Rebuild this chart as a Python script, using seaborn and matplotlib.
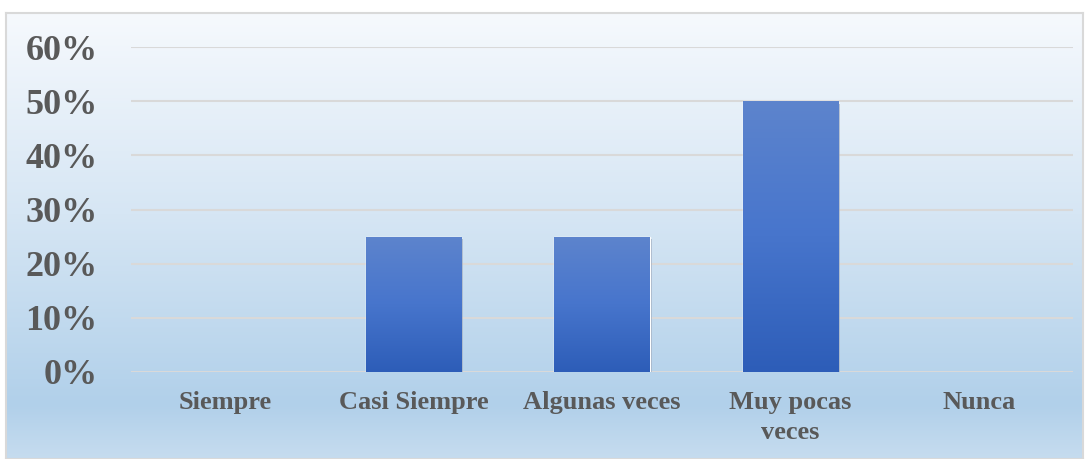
import matplotlib.pyplot as plt
import matplotlib.patheffects as pe
import numpy as np
import pandas as pd
import seaborn as sns
from matplotlib.colors import LinearSegmentedColormap

# Data
categories = ['Siempre', 'Casi Siempre', 'Algunas veces', 'Muy pocas\nveces', 'Nunca']
values = [0, 25, 25, 50, 0]
yticks = [0, 10, 20, 30, 40, 50, 60]

df = pd.DataFrame({'categoria': categories, 'porcentaje': values})

sns.set_theme(style="white")
plt.rcParams['font.family'] = ['Liberation Serif', 'DejaVu Serif']

fig = plt.figure(figsize=(10.89, 4.59), dpi=100)

# Background gradient panel with light border
bg = fig.add_axes([6 / 1089, 0, 1077 / 1089, 1 - 13 / 459], zorder=0)
bg_cmap = LinearSegmentedColormap.from_list(
    'bg', [(0, '#f6f9fd'), (0.45, '#d6e6f4'), (0.88, '#b1d0ea'), (1, '#c6dcef')])
bg.imshow(np.linspace(0, 1, 256).reshape(-1, 1), aspect='auto', cmap=bg_cmap,
          extent=[0, 1, 1, 0])
bg.set_xticks([])
bg.set_yticks([])
for s in bg.spines.values():
    s.set_color('#d9d9d9')
    s.set_linewidth(1.5)

ax = fig.add_axes([131 / 1089, 1 - 372 / 459, 942 / 1089, 325 / 459], zorder=1)
ax.patch.set_alpha(0)

sns.barplot(data=df, x='categoria', y='porcentaje', color='#4472c4', width=0.505,
            ax=ax, zorder=3)

# Gradient fill on bars
bar_cmap = LinearSegmentedColormap.from_list('bar', ['#2d5db8', '#4775cc', '#5d84cd'])
grad = np.linspace(0, 1, 256).reshape(-1, 1)
for p in ax.patches:
    h = p.get_height()
    if h <= 0:
        p.set_visible(False)
        continue
    x0 = p.get_x()
    w = p.get_width()
    p.set_path_effects([pe.SimplePatchShadow(offset=(1.5, -2), shadow_rgbFace='#7f8fa8', alpha=0.6),
                        pe.Normal()])
    im = ax.imshow(grad, aspect='auto', cmap=bar_cmap, origin='lower',
                   extent=[x0, x0 + w, 0, h], zorder=4)
    im.set_clip_path(p)

ax.set_xlim(-0.5, 4.5)
ax.set_ylim(0, 60)
ax.set_yticks(yticks)
ax.set_yticklabels([f'{t}%' for t in yticks])
ax.grid(axis='y', color='#d9d9d9', linewidth=1.5, zorder=0)
ax.set_axisbelow(True)
for s in ax.spines.values():
    s.set_visible(False)
ax.set_xlabel('')
ax.set_ylabel('')
ax.tick_params(axis='y', length=0, pad=24, labelsize=26, labelcolor='#595959')
ax.tick_params(axis='x', length=0, pad=14, labelsize=19, labelcolor='#595959')
for lbl in ax.get_yticklabels() + ax.get_xticklabels():
    lbl.set_fontweight('bold')
for lbl in ax.get_xticklabels():
    lbl.set_linespacing(1.35)

plt.savefig('out.png', dpi=100)
